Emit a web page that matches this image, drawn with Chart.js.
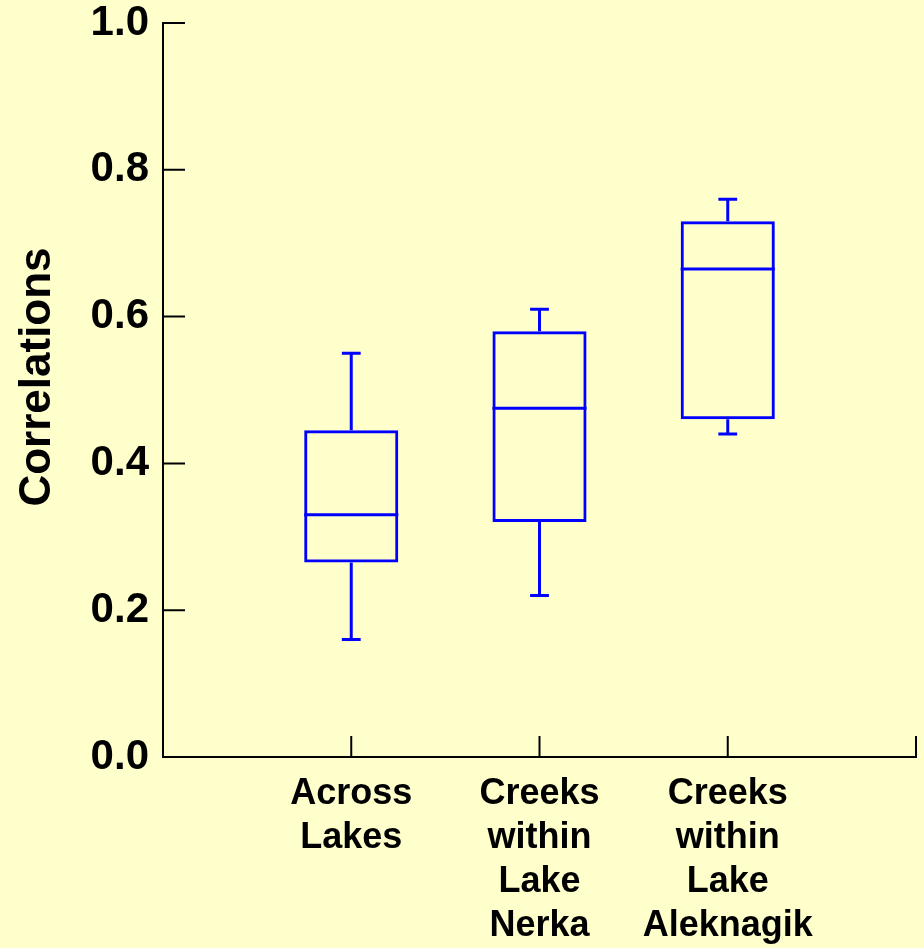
<!DOCTYPE html>
<html>
<head>
<meta charset="utf-8">
<script src="https://cdn.jsdelivr.net/npm/chart.js@4"></script>
<style>
  html, body { margin: 0; padding: 0; background: #FFFFCC; }
  canvas { display: block; }
</style>
</head>
<body>
<canvas id="myChart" width="924" height="948"></canvas>
<script>
// box plot data
const categories = [
  ['Across', 'Lakes'],
  ['Creeks', 'within', 'Lake', 'Nerka'],
  ['Creeks', 'within', 'Lake', 'Aleknagik']
]
const positions = [1, 2, 3]
const whiskerLow = [0.16, 0.22, 0.44]
const q1 = [0.265, 0.32, 0.46]
const median = [0.33, 0.475, 0.665]
const q3 = [0.445, 0.58, 0.73]
const whiskerHigh = [0.55, 0.61, 0.76]
const yTicks = [0, 0.2, 0.4, 0.6, 0.8, 1.0]
const xTicks = [1, 2, 3, 4]

const boxColor = '#0000FF'
const fontFamily = "'Liberation Sans', Arial, sans-serif"

// whiskers + medians drawn with the chart's scales
const boxExtras = {
  id: 'boxExtras',
  afterDatasetsDraw(chart) {
    const { ctx, scales: { x, y } } = chart
    ctx.save()
    ctx.strokeStyle = boxColor
    ctx.lineWidth = 3
    ctx.lineCap = 'butt'
    positions.forEach((p, i) => {
      const cx = x.getPixelForValue(p)
      const capL = x.getPixelForValue(p - 0.05)
      const capR = x.getPixelForValue(p + 0.05)
      ctx.beginPath()
      // upper whisker
      ctx.moveTo(cx, y.getPixelForValue(q3[i]))
      ctx.lineTo(cx, y.getPixelForValue(whiskerHigh[i]))
      ctx.moveTo(capL, y.getPixelForValue(whiskerHigh[i]))
      ctx.lineTo(capR, y.getPixelForValue(whiskerHigh[i]))
      // lower whisker
      ctx.moveTo(cx, y.getPixelForValue(q1[i]))
      ctx.lineTo(cx, y.getPixelForValue(whiskerLow[i]))
      ctx.moveTo(capL, y.getPixelForValue(whiskerLow[i]))
      ctx.lineTo(capR, y.getPixelForValue(whiskerLow[i]))
      // median
      ctx.moveTo(x.getPixelForValue(p - 0.25), y.getPixelForValue(median[i]))
      ctx.lineTo(x.getPixelForValue(p + 0.25), y.getPixelForValue(median[i]))
      ctx.stroke()
    })
    ctx.restore()
  }
}

// tick marks point inward, plus the y title
const axisDecor = {
  id: 'axisDecor',
  afterDraw(chart) {
    const { ctx, chartArea, scales: { x, y } } = chart
    ctx.save()
    ctx.strokeStyle = '#000'
    ctx.lineWidth = 2
    ctx.beginPath()
    yTicks.forEach(v => {
      const py = y.getPixelForValue(v)
      ctx.moveTo(chartArea.left, py)
      ctx.lineTo(chartArea.left + 22, py)
    })
    xTicks.forEach(v => {
      const px = x.getPixelForValue(v)
      ctx.moveTo(px, chartArea.bottom)
      ctx.lineTo(px, chartArea.bottom - 21)
    })
    ctx.stroke()

    ctx.translate(38, 377)
    ctx.rotate(-Math.PI / 2)
    ctx.fillStyle = '#000'
    ctx.font = 'bold 44px ' + fontFamily
    ctx.textAlign = 'center'
    ctx.textBaseline = 'middle'
    ctx.fillText('Correlations', 0, 0)
    ctx.restore()
  }
}

const ctx = document.getElementById('myChart')
new Chart(ctx, {
  type: 'bar',
  data: {
    datasets: [{
      data: positions.map((p, i) => ({ x: p, y: [q1[i], q3[i]] })),
      backgroundColor: 'rgba(0,0,0,0)',
      borderColor: boxColor,
      borderWidth: 3,
      borderSkipped: false,
      categoryPercentage: 1,
      barPercentage: 0.5
    }]
  },
  options: {
    responsive: false,
    animation: false,
    layout: { padding: { top: 23, right: 8, left: 0, bottom: 0 } },
    plugins: { legend: { display: false }, tooltip: { enabled: false } },
    scales: {
      x: {
        type: 'linear',
        offset: false,
        min: 0,
        max: 4,
        afterBuildTicks: s => { s.ticks = xTicks.map(v => ({ value: v })) },
        afterFit: s => { s.height = 191; s.paddingLeft = 0; s.paddingRight = 0 },
        grid: { display: false, drawTicks: false },
        border: { display: true, color: '#000', width: 2 },
        ticks: {
          autoSkip: false,
          maxRotation: 0,
          padding: 15,
          color: '#000',
          font: { family: fontFamily, size: 36, weight: 'bold', lineHeight: 1.22 },
          callback: v => categories[v - 1] || ''
        }
      },
      y: {
        min: 0,
        max: 1,
        afterBuildTicks: s => { s.ticks = yTicks.map(v => ({ value: v })) },
        afterFit: s => { s.width = 163; s.paddingTop = 0; s.paddingBottom = 0 },
        grid: { display: false, drawTicks: false },
        border: { display: true, color: '#000', width: 2 },
        ticks: {
          padding: 14,
          color: '#000',
          font: { family: fontFamily, size: 42, weight: 'bold' },
          callback: v => v.toFixed(1)
        }
      }
    }
  },
  plugins: [boxExtras, axisDecor]
})
</script>
</body>
</html>
